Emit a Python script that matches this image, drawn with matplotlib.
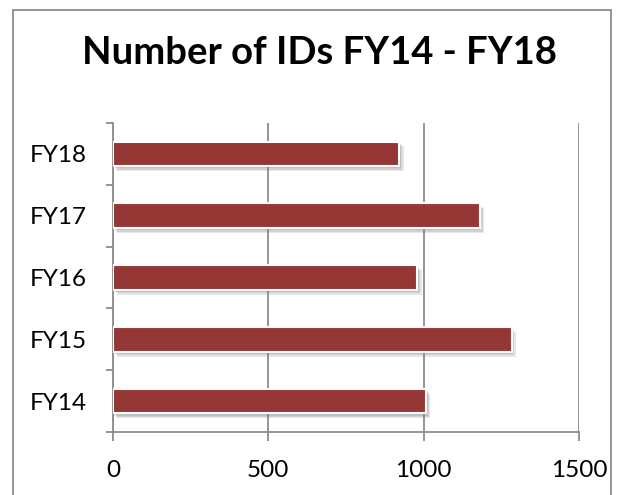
import matplotlib
matplotlib.use("Agg")
import matplotlib.pyplot as plt
import matplotlib.patheffects as pe
from matplotlib.patches import Rectangle

# values
years = ["FY14", "FY15", "FY16", "FY17", "FY18"]
ids = [1008, 1283, 980, 1181, 922]
xticks = [0, 500, 1000, 1500]

bar_color = "#953735"
axis_gray = "#8c8c8c"
plt.rcParams["font.family"] = ["Lato", "DejaVu Sans"]

fig = plt.figure(figsize=(6.22, 4.95), dpi=100)
W, H = 622, 495

# outer chart border (bottom runs off the image)
fig.patches.append(Rectangle((13 / W, -0.05), (611 - 13) / W, 1.05 - 10 / H,
                             transform=fig.transFigure, fill=False,
                             edgecolor=axis_gray, lw=1.3))

ax = fig.add_axes([113 / W, (H - 432) / H, 466 / W, 309 / H])
ax.set_xlim(0, 1500)
ax.set_ylim(-0.5, len(years) - 0.5)

# soft drop shadow: a few faint offset layers
shadow = [pe.SimplePatchShadow(offset=(o, -o - 0.5), shadow_rgbFace="#777777", alpha=0.18)
          for o in (1.0, 2.0, 3.0)] + [pe.Normal()]
ax.barh(range(len(years)), ids, height=0.4, color=bar_color, edgecolor="white",
        linewidth=1.5, zorder=3, path_effects=shadow)

ax.set_xticks(xticks)
ax.set_xticklabels([str(t) for t in xticks], fontsize=17.5)
ax.set_yticks(range(len(years)))
ax.set_yticklabels(years, fontsize=17.5)
ax.set_yticks([i - 0.5 for i in range(len(years) + 1)], minor=True)
ax.tick_params(axis="y", which="major", length=0, pad=19)
ax.tick_params(axis="y", which="minor", length=5, width=1.3, color=axis_gray)
ax.tick_params(axis="x", length=6.5, width=1.3, color=axis_gray, pad=14)

ax.grid(axis="x", color=axis_gray, lw=1.3, zorder=0)
for side in ["top", "right"]:
    ax.spines[side].set_visible(False)
for side in ["left", "bottom"]:
    ax.spines[side].set_color(axis_gray)
    ax.spines[side].set_linewidth(1.3)

fig.text(319 / W, 1 - 53 / H, "Number of IDs FY14 - FY18", ha="center", va="center",
         fontsize=27.5, fontweight="bold")

fig.savefig("out.png", dpi=100)
